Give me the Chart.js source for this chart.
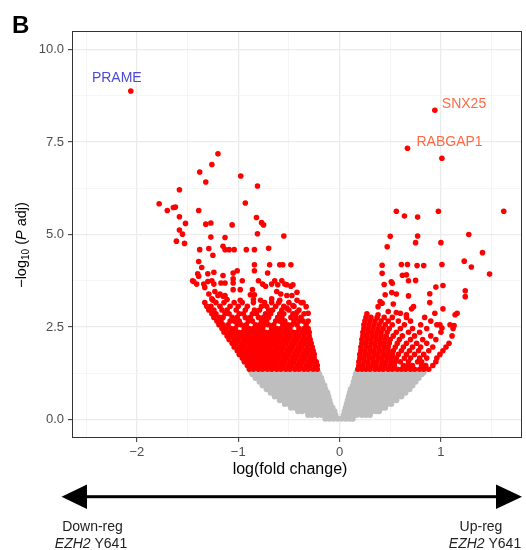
<!DOCTYPE html>
<html><head><meta charset="utf-8">
<script src="https://cdn.jsdelivr.net/npm/chart.js@4/dist/chart.umd.min.js"></script>
<style>html,body{margin:0;padding:0;background:#fff}canvas{display:block}</style>
</head><body>
<canvas id="c" width="526" height="550"></canvas>
<script>
// ---- axis ticks ----
const xMajorTicks = [-2, -1, 0, 1];
const xMinorTicks = [-2.5, -1.5, -0.5, 0.5, 1.5];
const yMajorTicks = [0, 2.5, 5, 7.5, 10];
const yMinorTicks = [1.25, 3.75, 6.25, 8.75];

// ---- labelled genes ----
const geneNames = ['PRAME', 'SNX25', 'RABGAP1'];
const geneX = [-2.06, 0.94, 0.67];
const geneY = [8.88, 8.36, 7.33];

// ---- significant, down-regulated (sparse points) ----
const downSparse = [[-1.20,7.18],[-1.26,6.89],[-1.38,6.69],[-1.32,6.42],[-0.975,6.58],[-0.81,6.31],[-1.58,6.21],[-1.78,5.83],[-1.70,5.65],[-1.64,5.73],[-1.62,5.74],[-1.39,5.65],[-0.93,5.85],[-1.58,5.48],[-1.52,5.30],[-1.32,5.28],[-1.27,5.31],[-1.06,5.26],[-0.82,5.46],[-0.77,5.32],[-0.75,5.26],[-1.58,5.12],[-1.55,5.01],[-1.61,4.82],[-1.53,4.76],[-1.27,4.93],[-1.13,4.92],[-0.81,5.02],[-0.55,4.96],[-0.70,4.63],[-1.38,4.59],[-1.29,4.62],[-1.15,4.68],[-1.13,4.59],[-1.09,4.59],[-1.04,4.59],[-0.92,4.59],[-0.84,4.59],[-1.25,4.44],[-1.39,4.27],[-1.36,4.11],[-1.40,3.94],[-1.30,3.94],[-1.24,3.98],[-1.15,3.89],[-1.05,3.96],[-1.01,4.02],[-0.84,4.18],[-0.69,4.18],[-0.59,4.18],[-0.56,4.18],[-0.48,4.18],[-0.84,4.02],[-0.71,3.96],[-1.45,3.75],[-1.41,3.66],[-1.34,3.66],[-1.30,3.73],[-1.26,3.75],[-1.24,3.66],[-1.17,3.69],[-1.13,3.69],[-1.05,3.80],[-1.05,3.69],[-0.96,3.75],[-0.80,3.75],[-0.76,3.66],[-0.73,3.60],[-0.67,3.66],[-0.64,3.75],[-0.61,3.64],[-0.57,3.75],[-0.54,3.66],[-0.52,3.64],[-0.46,3.64],[-0.48,3.60],[-1.33,3.57],[-1.05,3.51],[-0.98,3.51],[-0.86,3.51],[-1.29,3.39],[-1.23,3.46],[-1.20,3.35],[-1.18,3.39],[-1.15,3.33],[-1.13,3.35],[-1.26,3.26],[-0.88,3.37],[-0.84,3.37],[-0.62,3.46],[-0.58,3.39],[-0.52,3.35],[-0.47,3.35],[-0.42,3.44],[-0.46,3.08],[-0.42,2.90],[-0.52,3.01],[-0.31,2.87],[-1.25,3.22],[-1.11,3.24],[-0.98,3.22],[-0.85,3.24],[-0.78,3.22],[-0.67,3.26],[-0.59,3.22],[-0.42,3.22],[-0.36,3.16],[-0.33,3.05],[-1.44,3.73],[-1.39,3.87]];

// ---- significant, down-regulated (dense band, read row by row) ----
const downRowY = [1.36,1.46,1.56,1.66,1.76,1.86,1.96,2.06,2.16,2.26,2.36,2.46,2.56,2.66,2.76,2.86,2.96,3.06,3.16];
const downRowX = [
 [-0.89,-0.85,-0.80,-0.76,-0.71,-0.67,-0.62,-0.58,-0.53,-0.49,-0.44,-0.40,-0.35,-0.31,-0.26,-0.22],
 [-0.91,-0.87,-0.82,-0.78,-0.74,-0.69,-0.65,-0.60,-0.56,-0.51,-0.47,-0.42,-0.38,-0.33,-0.29,-0.24,-0.22],
 [-0.94,-0.89,-0.85,-0.80,-0.76,-0.72,-0.67,-0.63,-0.58,-0.54,-0.49,-0.45,-0.40,-0.36,-0.31,-0.27,-0.23],
 [-0.96,-0.92,-0.87,-0.83,-0.78,-0.74,-0.69,-0.65,-0.61,-0.56,-0.52,-0.47,-0.43,-0.38,-0.34,-0.29,-0.25],
 [-0.99,-0.94,-0.90,-0.85,-0.81,-0.76,-0.72,-0.67,-0.63,-0.58,-0.54,-0.50,-0.45,-0.41,-0.36,-0.32,-0.27,-0.25],
 [-1.01,-0.97,-0.92,-0.88,-0.83,-0.79,-0.74,-0.70,-0.65,-0.61,-0.57,-0.52,-0.48,-0.43,-0.39,-0.34,-0.30,-0.26],
 [-1.04,-0.99,-0.95,-0.90,-0.86,-0.81,-0.77,-0.72,-0.68,-0.63,-0.59,-0.55,-0.50,-0.46,-0.41,-0.37,-0.32,-0.27],
 [-1.06,-1.02,-0.97,-0.93,-0.88,-0.84,-0.79,-0.75,-0.70,-0.66,-0.62,-0.57,-0.53,-0.48,-0.44,-0.39,-0.35,-0.30,-0.28],
 [-1.09,-1.04,-1.00,-0.95,-0.91,-0.86,-0.82,-0.77,-0.73,-0.68,-0.64,-0.60,-0.55,-0.51,-0.46,-0.42,-0.37,-0.33,-0.29],
 [-1.11,-1.07,-1.02,-0.98,-0.93,-0.89,-0.84,-0.80,-0.75,-0.71,-0.66,-0.62,-0.58,-0.53,-0.49,-0.44,-0.40,-0.35,-0.30],
 [-1.14,-1.09,-1.05,-1.00,-0.96,-0.91,-0.87,-0.82,-0.78,-0.73,-0.69,-0.64,-0.60,-0.55,-0.51,-0.46,-0.42,-0.37,-0.33,-0.30],
 [-1.16,-1.12,-1.07,-1.03,-0.94,-0.89,-0.85,-0.80,-0.76,-0.67,-0.62,-0.58,-0.53,-0.49,-0.40,-0.35,-0.31],
 [-1.19,-1.15,-1.10,-1.01,-0.97,-0.92,-0.83,-0.79,-0.74,-0.70,-0.65,-0.56,-0.51,-0.47,-0.42,-0.33],
 [-1.21,-1.17,-1.08,-1.04,-0.99,-0.90,-0.86,-0.77,-0.72,-0.63,-0.59,-0.54,-0.45,-0.40,-0.36,-0.31],
 [-1.24,-1.19,-1.15,-1.06,-1.01,-0.93,-0.88,-0.80,-0.75,-0.70,-0.61,-0.57,-0.48,-0.43,-0.38],
 [-1.26,-1.22,-1.13,-1.09,-0.99,-0.95,-0.86,-0.82,-0.73,-0.68,-0.59,-0.55,-0.46,-0.35],
 [-1.29,-1.24,-1.16,-1.11,-1.02,-0.93,-0.84,-0.79,-0.70,-0.66,-0.57,-0.50,-0.40],
 [-1.31,-1.27,-1.18,-1.08,-1.00,-0.91,-0.77,-0.72,-0.63,-0.55,-0.45],
 [-1.33,-1.22,-1.14,-1.04,-0.96,-0.85,-0.74,-0.67,-0.60,-0.50,-0.38]
];

// ---- significant, up-regulated (sparse points) ----
const upSparse = [[1.01,7.06],[0.56,5.63],[0.64,5.50],[0.77,5.47],[0.975,5.63],[1.62,5.63],[0.50,4.95],[0.77,4.96],[0.75,4.78],[1.00,4.78],[1.275,5.00],[0.47,4.67],[1.41,4.51],[0.42,4.17],[0.61,4.19],[0.67,4.19],[0.765,4.16],[0.83,4.16],[1.01,4.19],[1.23,4.28],[1.30,4.12],[1.48,3.93],[0.42,3.95],[0.62,3.90],[0.66,3.91],[0.68,3.75],[0.75,3.76],[0.44,3.65],[0.51,3.72],[0.52,3.68],[0.95,3.58],[1.02,3.62],[1.24,3.48],[1.24,3.32],[0.45,3.37],[0.515,3.43],[0.56,3.39],[0.68,3.34],[0.89,3.40],[0.89,3.16],[0.40,3.19],[0.42,3.14],[0.53,3.12],[0.38,3.05],[0.60,2.87],[0.56,2.89],[0.48,2.92],[0.66,2.83],[0.73,3.05],[0.71,2.99],[1.02,2.99],[1.16,2.87],[1.14,2.83],[0.94,2.87],[0.27,2.86],[0.38,2.83],[1.09,2.56],[1.13,2.54],[0.99,2.56],[1.01,2.47]];

// ---- significant, up-regulated (dense band, read row by row) ----
const upRowY = [1.36,1.46,1.56,1.66,1.76,1.86,1.96,2.06,2.16,2.26,2.36,2.46,2.56,2.66,2.76];
const upRowX = [
 [0.18,0.22,0.26,0.30,0.35,0.39,0.43,0.48,0.52,0.57,0.61,0.65,0.70,0.74,0.79,0.83,0.88],
 [0.19,0.23,0.28,0.32,0.36,0.41,0.45,0.50,0.54,0.63,0.67,0.72,0.81,0.85,0.92],
 [0.19,0.24,0.28,0.33,0.37,0.42,0.46,0.51,0.55,0.60,0.68,0.77,0.81,0.95],
 [0.20,0.24,0.29,0.33,0.38,0.42,0.47,0.51,0.56,0.64,0.70,0.79,0.86,0.96],
 [0.20,0.25,0.29,0.34,0.38,0.43,0.47,0.52,0.58,0.66,0.74,0.83,0.99],
 [0.21,0.25,0.30,0.34,0.39,0.43,0.48,0.53,0.61,0.69,0.78,0.88,1.02],
 [0.21,0.26,0.30,0.35,0.39,0.44,0.48,0.55,0.63,0.72,0.80,0.92,1.05],
 [0.22,0.26,0.31,0.35,0.40,0.44,0.49,0.57,0.66,0.76,0.86,1.08],
 [0.22,0.27,0.31,0.36,0.40,0.45,0.50,0.59,0.70,0.82,0.95],
 [0.23,0.27,0.32,0.36,0.41,0.46,0.53,0.62,0.74,0.90,1.11],
 [0.23,0.28,0.32,0.37,0.41,0.47,0.56,0.68,0.79,1.00],
 [0.24,0.28,0.33,0.38,0.43,0.49,0.60,0.72,0.86,1.12],
 [0.24,0.29,0.34,0.39,0.45,0.52,0.64,0.80,0.96],
 [0.25,0.30,0.35,0.41,0.48,0.58,0.70,0.90],
 [0.26,0.31,0.37,0.44,0.52,0.66,0.84]
];

// ---- not significant (grey cloud, read row by row) ----
const nsRowY = [0.02,0.12,0.22,0.32,0.42,0.52,0.62,0.72,0.82,0.92,1.02,1.12,1.22,1.28];
const nsRowX = [
 [-0.14,-0.10,-0.06,-0.02,0.02,0.06,0.10,0.13],
 [-0.31,-0.27,-0.22,-0.18,-0.13,-0.09,-0.04,0.04,0.08,0.13,0.17,0.22,0.26,0.30],
 [-0.41,-0.37,-0.32,-0.28,-0.23,-0.19,-0.14,-0.10,-0.05,0.05,0.09,0.14,0.18,0.23,0.27,0.32,0.36,0.39],
 [-0.48,-0.44,-0.39,-0.35,-0.30,-0.26,-0.21,-0.17,-0.12,-0.07,0.06,0.10,0.15,0.19,0.24,0.28,0.33,0.37,0.42,0.45],
 [-0.54,-0.50,-0.45,-0.41,-0.36,-0.32,-0.27,-0.23,-0.18,-0.14,-0.09,0.07,0.11,0.16,0.20,0.25,0.29,0.34,0.38,0.43,0.47,0.51],
 [-0.59,-0.55,-0.50,-0.46,-0.41,-0.37,-0.32,-0.28,-0.23,-0.19,-0.14,-0.10,0.08,0.12,0.17,0.21,0.26,0.30,0.35,0.39,0.44,0.48,0.53,0.56],
 [-0.64,-0.60,-0.55,-0.51,-0.46,-0.42,-0.37,-0.33,-0.28,-0.24,-0.19,-0.15,-0.11,0.09,0.13,0.18,0.22,0.27,0.31,0.36,0.40,0.45,0.49,0.54,0.58,0.61],
 [-0.68,-0.64,-0.59,-0.55,-0.50,-0.46,-0.41,-0.37,-0.32,-0.28,-0.23,-0.19,-0.14,-0.12,0.10,0.14,0.19,0.23,0.28,0.32,0.37,0.41,0.46,0.50,0.55,0.59,0.63,0.65],
 [-0.72,-0.68,-0.63,-0.59,-0.54,-0.50,-0.45,-0.41,-0.36,-0.32,-0.27,-0.23,-0.18,-0.14,0.11,0.15,0.20,0.24,0.29,0.33,0.38,0.42,0.47,0.51,0.56,0.60,0.65,0.69],
 [-0.76,-0.72,-0.67,-0.63,-0.58,-0.54,-0.49,-0.45,-0.40,-0.36,-0.31,-0.27,-0.22,-0.18,-0.15,0.13,0.17,0.22,0.26,0.31,0.35,0.40,0.44,0.49,0.53,0.58,0.62,0.67,0.72],
 [-0.79,-0.75,-0.70,-0.66,-0.61,-0.57,-0.52,-0.48,-0.43,-0.39,-0.34,-0.30,-0.25,-0.21,-0.17,0.14,0.18,0.23,0.27,0.32,0.36,0.41,0.45,0.50,0.54,0.59,0.63,0.68,0.72,0.75],
 [-0.83,-0.78,-0.74,-0.69,-0.65,-0.60,-0.56,-0.51,-0.47,-0.42,-0.38,-0.33,-0.29,-0.24,-0.20,-0.18,0.15,0.19,0.24,0.28,0.33,0.37,0.42,0.46,0.51,0.55,0.60,0.64,0.69,0.73,0.78],
 [-0.86,-0.81,-0.77,-0.72,-0.68,-0.63,-0.59,-0.54,-0.50,-0.45,-0.41,-0.36,-0.32,-0.27,-0.23,-0.20,0.16,0.20,0.25,0.29,0.34,0.38,0.43,0.47,0.52,0.56,0.61,0.65,0.70,0.74,0.79,0.81],
 [-0.87,-0.83,-0.78,-0.74,-0.69,-0.65,-0.60,-0.56,-0.51,-0.47,-0.42,-0.38,-0.33,-0.29,-0.24,-0.21,0.17,0.21,0.26,0.30,0.35,0.39,0.44,0.48,0.53,0.57,0.62,0.66,0.71,0.75,0.80,0.83]
];

// ---- build datasets ----
const FONT = "'Liberation Sans', Arial, Helvetica, sans-serif";
function fromRows(ys, xs) { const out = []; ys.forEach((y, i) => xs[i].forEach(x => out.push({ x: x, y: y }))); return out; }
function fromPairs(p) { return p.map(d => ({ x: d[0], y: d[1] })); }
const redPoints = [].concat(
  geneX.map((x, i) => ({ x: x, y: geneY[i] })),
  fromPairs(downSparse), fromRows(downRowY, downRowX),
  fromPairs(upSparse), fromRows(upRowY, upRowX)
);
const greyPoints = fromRows(nsRowY, nsRowX);

function isMajor(list, v) { return list.some(t => Math.abs(t - v) < 1e-9); }

const decor = {
  id: 'decor',
  beforeDraw(chart) {
    const c = chart.ctx; c.save(); c.fillStyle = '#fff'; c.fillRect(0, 0, chart.width, chart.height); c.restore();
  },
  afterDraw(chart) {
    const c = chart.ctx, a = chart.chartArea, xs = chart.scales.x, ys = chart.scales.y;
    c.save();
    // panel border
    c.strokeStyle = '#333333'; c.lineWidth = 1;
    c.strokeRect(a.left + 0.5, a.top + 0.5, a.right - a.left - 1, a.bottom - a.top - 1);
    // panel tag
    c.fillStyle = '#000'; c.font = 'bold 24px ' + FONT; c.textAlign = 'left'; c.textBaseline = 'alphabetic';
    c.fillText('B', 12, 33);
    // gene labels
    c.font = '14px ' + FONT; c.textBaseline = 'middle';
    const labStyle = [
      { dx: -14, dy: -13, align: 'center', color: '#4B4BD8' },
      { dx: 7, dy: -6, align: 'left', color: '#FF6A45' },
      { dx: 9, dy: -6, align: 'left', color: '#FF6A45' }
    ];
    geneNames.forEach((g, i) => {
      const px = xs.getPixelForValue(geneX[i]), py = ys.getPixelForValue(geneY[i]);
      c.fillStyle = labStyle[i].color; c.textAlign = labStyle[i].align;
      c.fillText(g, px + labStyle[i].dx, py + labStyle[i].dy);
    });
    // x title
    c.fillStyle = '#000'; c.font = '16px ' + FONT; c.textAlign = 'center'; c.textBaseline = 'middle';
    c.fillText('log(fold change)', 290, 470);
    // y title (rotated, with subscript and italic P)
    const parts = [
      { t: '\u2212log', f: '14.5px ' + FONT, dy: 0 },
      { t: '10', f: '10px ' + FONT, dy: 4 },
      { t: ' (', f: '14.5px ' + FONT, dy: 0 },
      { t: 'P', f: 'italic 14.5px ' + FONT, dy: 0 },
      { t: ' adj)', f: '14.5px ' + FONT, dy: 0 }
    ];
    let tot = 0; parts.forEach(p => { c.font = p.f; p.w = c.measureText(p.t).width; tot += p.w; });
    c.translate(22, 245); c.rotate(-Math.PI / 2);
    let cx = -tot / 2; c.textAlign = 'left'; c.textBaseline = 'middle';
    parts.forEach(p => { c.font = p.f; c.fillText(p.t, cx, p.dy); cx += p.w; });
    c.setTransform(1, 0, 0, 1, 0, 0);
    // arrow
    c.fillStyle = '#000';
    c.fillRect(85, 495.2, 412, 3);
    c.beginPath(); c.moveTo(61.5, 496.7); c.lineTo(87, 484.5); c.lineTo(87, 508.9); c.closePath(); c.fill();
    c.beginPath(); c.moveTo(522, 496.7); c.lineTo(496, 484.5); c.lineTo(496, 508.9); c.closePath(); c.fill();
    // direction labels
    c.fillStyle = '#222'; c.textBaseline = 'middle';
    function mixed(segs, cxm, y) {
      let w = 0; segs.forEach(s => { c.font = s[1]; s.w = c.measureText(s[0]).width; w += s.w; });
      let x = cxm - w / 2; c.textAlign = 'left';
      segs.forEach(s => { c.font = s[1]; c.fillText(s[0], x, y); x += s.w; });
    }
    const n14 = '14px ' + FONT, i14 = 'italic 14px ' + FONT;
    mixed([['Down-reg', n14]], 92.5, 527);
    mixed([['EZH2', i14], [' Y641', n14]], 91, 544);
    mixed([['Up-reg', n14]], 481, 527);
    mixed([['EZH2', i14], [' Y641', n14]], 485, 544);
    c.restore();
  }
};

const gridColor = (list) => (ctx) => (ctx.tick && isMajor(list, ctx.tick.value)) ? '#EBEBEB' : '#F3F3F3';
const gridWidth = (list) => (ctx) => (ctx.tick && isMajor(list, ctx.tick.value)) ? 1.3 : 0.8;
const tickCol = (list) => (ctx) => (ctx.tick && isMajor(list, ctx.tick.value)) ? '#333333' : 'rgba(0,0,0,0)';

new Chart(document.getElementById('c'), {
  type: 'scatter',
  data: {
    datasets: [
      { label: 'significant', data: redPoints, backgroundColor: '#FF0000', borderWidth: 0, pointRadius: 2.8, pointHoverRadius: 2.8, order: 0 },
      { label: 'not significant', data: greyPoints, backgroundColor: '#BEBEBE', borderWidth: 0, pointRadius: 3.0, pointHoverRadius: 3.0, order: 1 }
    ]
  },
  options: {
    responsive: false, devicePixelRatio: 1, animation: false, events: [],
    layout: { padding: { left: 0, right: 4, top: 31, bottom: 0 } },
    plugins: { legend: { display: false }, tooltip: { enabled: false } },
    scales: {
      x: {
        type: 'linear', min: -2.64, max: 1.80,
        afterBuildTicks(s) { s.ticks = xMajorTicks.concat(xMinorTicks).sort((a, b) => a - b).map(v => ({ value: v })); },
        afterFit(s) { s.height = 112; },
        ticks: {
          autoSkip: false, maxRotation: 0, padding: 3, color: '#4D4D4D', font: { family: FONT, size: 13 },
          callback(v) { return isMajor(xMajorTicks, v) ? (v < 0 ? '\u2212' + Math.abs(v) : String(v)) : ''; }
        },
        grid: { color: gridColor(xMajorTicks), lineWidth: gridWidth(xMajorTicks), tickLength: 4, tickColor: tickCol(xMajorTicks), tickWidth: 1 },
        border: { display: false }
      },
      y: {
        type: 'linear', min: -0.5, max: 10.5,
        afterBuildTicks(s) { s.ticks = yMajorTicks.concat(yMinorTicks).sort((a, b) => a - b).map(v => ({ value: v })); },
        afterFit(s) { s.width = 72; },
        ticks: {
          autoSkip: false, padding: 4, color: '#4D4D4D', font: { family: FONT, size: 13 },
          callback(v) { return isMajor(yMajorTicks, v) ? v.toFixed(1) : ''; }
        },
        grid: { color: gridColor(yMajorTicks), lineWidth: gridWidth(yMajorTicks), tickLength: 4, tickColor: tickCol(yMajorTicks), tickWidth: 1 },
        border: { display: false }
      }
    }
  },
  plugins: [decor]
});
</script>
</body></html>
